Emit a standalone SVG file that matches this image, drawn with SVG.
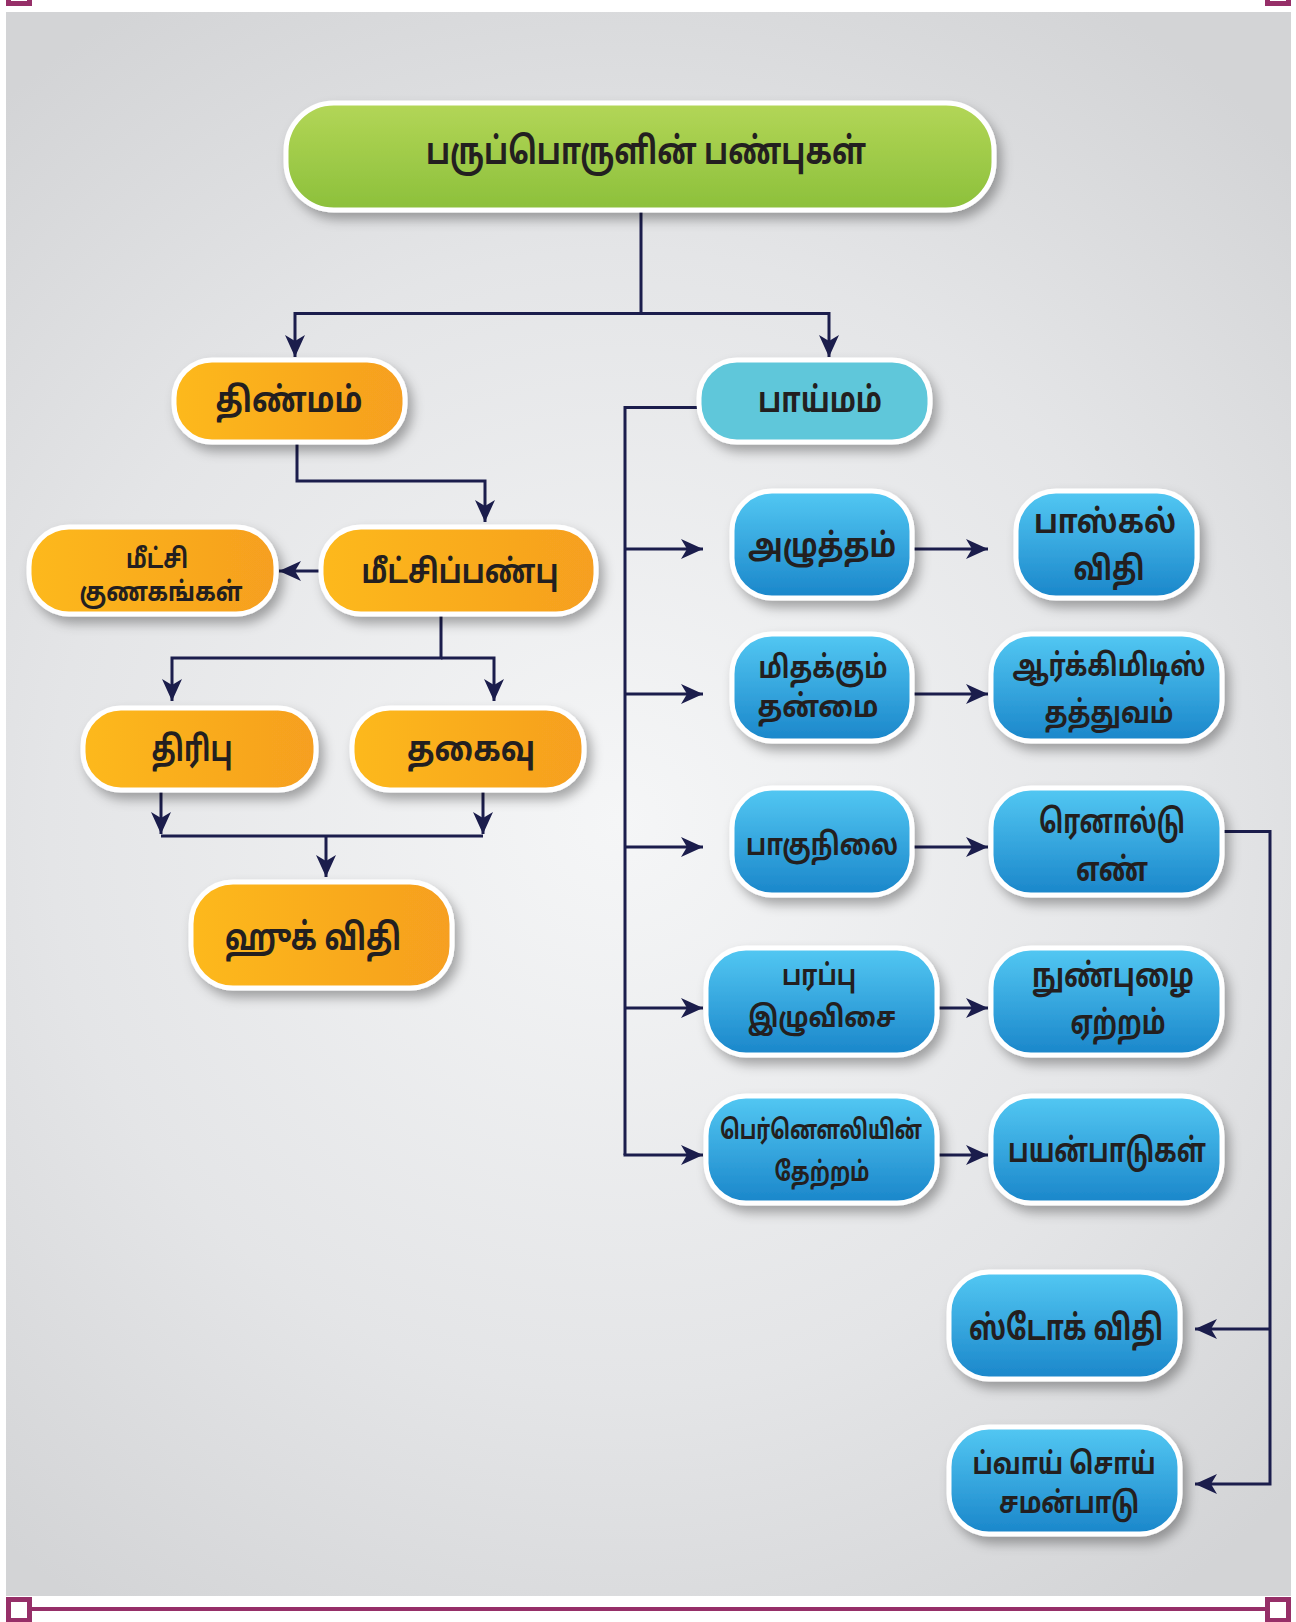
<svg xmlns="http://www.w3.org/2000/svg" width="1296" height="1622" viewBox="0 0 1296 1622">
<defs>
  <radialGradient id="bg" cx="620" cy="820" r="950" gradientUnits="userSpaceOnUse">
    <stop offset="0" stop-color="#f5f6f7"/>
    <stop offset="0.6" stop-color="#e4e5e7"/>
    <stop offset="1" stop-color="#d3d4d6"/>
  </radialGradient>
  <linearGradient id="green" x1="0" y1="0" x2="0" y2="1">
    <stop offset="0" stop-color="#b3d657"/>
    <stop offset="1" stop-color="#8cc03b"/>
  </linearGradient>
  <linearGradient id="orange" x1="0" y1="0" x2="1" y2="0">
    <stop offset="0" stop-color="#fdb91b"/>
    <stop offset="1" stop-color="#f69f20"/>
  </linearGradient>
  <linearGradient id="blue" x1="0" y1="0" x2="0" y2="1">
    <stop offset="0" stop-color="#53c8f3"/>
    <stop offset="1" stop-color="#1a86ca"/>
  </linearGradient>
  <filter id="sh" x="-20%" y="-20%" width="150%" height="160%">
    <feDropShadow dx="5" dy="7" stdDeviation="6" flood-color="#000" flood-opacity="0.32"/>
  </filter>
  <marker id="ah" markerUnits="userSpaceOnUse" markerWidth="24" markerHeight="22" refX="22" refY="10" orient="auto">
    <path d="M0,0 L22,10 L0,20 L6,10 z" fill="#1b1d4c"/>
  </marker>
  <style>
    .box{stroke:#fff;stroke-width:5;filter:url(#sh)}
    .g{fill:url(#green)}
    .o{fill:url(#orange)}
    .b{fill:url(#blue)}
    .t{fill:#5ec7da}
    text{font-family:"Noto Sans Tamil","Lohit Tamil","Noto Sans","DejaVu Sans",sans-serif;font-weight:bold;fill:#231f20;text-anchor:middle;dominant-baseline:central}
    .c{fill:none;stroke:#1b1d4c;stroke-width:3}
    .ca{fill:none;stroke:#1b1d4c;stroke-width:3;marker-end:url(#ah)}
    .pm{fill:#fff;stroke:#962f68;stroke-width:5}
  </style>
</defs>
<rect x="0" y="0" width="1296" height="1622" fill="#fff"/>
<rect x="6" y="12" width="1285" height="1584" fill="url(#bg)"/>
<line x1="30" y1="1609" x2="1267" y2="1609" stroke="#962f68" stroke-width="4"/>
<rect class="pm" x="8.5" y="1599.5" width="21" height="21"/>
<rect class="pm" x="1267.5" y="1599.5" width="21" height="21"/>
<rect class="pm" x="8.5" y="-17.5" width="21" height="21"/>
<rect class="pm" x="1267.5" y="-17.5" width="21" height="21"/>

<g id="connectors">
  <path class="c" d="M641,210 V313.5 H295"/>
  <path class="ca" d="M295,312 V357"/>
  <path class="ca" d="M641,313.5 H829 V357"/>
  <path class="ca" d="M297,442 V481 H485 V522"/>
  <path class="ca" d="M321,571 H279"/>
  <path class="ca" d="M441,614 V658 H172 V701"/>
  <path class="ca" d="M441,658 H494 V701"/>
  <path class="ca" d="M161,790 V834"/>
  <path class="ca" d="M483,790 V834"/>
  <path class="c" d="M161,836 H483"/>
  <path class="ca" d="M326,836 V877"/>
  <path class="c" d="M699,407.5 H625 V1155"/>
  <path class="ca" d="M625,549 H703"/>
  <path class="ca" d="M625,694 H703"/>
  <path class="ca" d="M625,847 H703"/>
  <path class="ca" d="M625,1008 H703"/>
  <path class="ca" d="M623.5,1155 H703"/>
  <path class="ca" d="M912,549 H988"/>
  <path class="ca" d="M912,694 H988"/>
  <path class="ca" d="M912,847 H988"/>
  <path class="ca" d="M937,1008 H988"/>
  <path class="ca" d="M937,1155 H988"/>
  <path class="ca" d="M1222,831.5 H1270 V1484 H1195"/>
  <path class="ca" d="M1270,1329 H1195"/>
</g>

<g id="root"><rect class="box g" x="286" y="103" width="708" height="107" rx="48"/>
  <text x="646" y="155" font-size="37" textLength="440" lengthAdjust="spacingAndGlyphs">பருப்பொருளின் பண்புகள்</text></g>
<g id="thinmam"><rect class="box o" x="174" y="360" width="231" height="82" rx="38"/>
  <text x="289" y="403" font-size="35" textLength="147" lengthAdjust="spacingAndGlyphs">திண்மம்</text></g>
<g id="paaymam"><rect class="box t" x="699" y="360" width="231" height="82" rx="38"/>
  <text x="820" y="403" font-size="35" textLength="124" lengthAdjust="spacingAndGlyphs">பாய்மம்</text></g>
<g id="meetchi-gunagangal"><rect class="box o" x="29" y="527" width="247" height="87" rx="40"/>
  <text x="157" y="561" font-size="27" textLength="62" lengthAdjust="spacingAndGlyphs">மீட்சி</text>
  <text x="161" y="594" font-size="27" textLength="163" lengthAdjust="spacingAndGlyphs">குணகங்கள்</text></g>
<g id="meetchippanbu"><rect class="box o" x="321" y="527" width="275" height="87" rx="40"/>
  <text x="460" y="574" font-size="33" textLength="197" lengthAdjust="spacingAndGlyphs">மீட்சிப்பண்பு</text></g>
<g id="thiribu"><rect class="box o" x="83" y="708" width="233" height="82" rx="38"/>
  <text x="192" y="752" font-size="35" textLength="81" lengthAdjust="spacingAndGlyphs">திரிபு</text></g>
<g id="thagaivu"><rect class="box o" x="352" y="708" width="232" height="82" rx="38"/>
  <text x="471" y="752" font-size="35" textLength="128" lengthAdjust="spacingAndGlyphs">தகைவு</text></g>
<g id="hooke"><rect class="box o" x="191" y="882" width="261" height="106" rx="42"/>
  <text x="313" y="941" font-size="37" textLength="176" lengthAdjust="spacingAndGlyphs">ஹுக் விதி</text></g>

<g id="azhutham"><rect class="box b" x="732" y="491" width="180" height="107" rx="40"/>
  <text x="822" y="548" font-size="33" textLength="148" lengthAdjust="spacingAndGlyphs">அழுத்தம்</text></g>
<g id="pascal"><rect class="box b" x="1016" y="491" width="181" height="107" rx="40"/>
  <text x="1105" y="524" font-size="33" textLength="142" lengthAdjust="spacingAndGlyphs">பாஸ்கல்</text>
  <text x="1109" y="571" font-size="33" textLength="71" lengthAdjust="spacingAndGlyphs">விதி</text></g>
<g id="mithakkum"><rect class="box b" x="732" y="634" width="180" height="107" rx="40"/>
  <text x="823" y="670" font-size="31" textLength="129" lengthAdjust="spacingAndGlyphs">மிதக்கும்</text>
  <text x="818" y="709" font-size="31" textLength="121" lengthAdjust="spacingAndGlyphs">தன்மை</text></g>
<g id="archimedes"><rect class="box b" x="991" y="634" width="231" height="107" rx="40"/>
  <text x="1109" y="668" font-size="31" textLength="193" lengthAdjust="spacingAndGlyphs">ஆர்க்கிமிடிஸ்</text>
  <text x="1109" y="715" font-size="31" textLength="129" lengthAdjust="spacingAndGlyphs">தத்துவம்</text></g>
<g id="paagunilai"><rect class="box b" x="732" y="788" width="180" height="107" rx="40"/>
  <text x="822" y="847" font-size="31" textLength="152" lengthAdjust="spacingAndGlyphs">பாகுநிலை</text></g>
<g id="reynolds"><rect class="box b" x="991" y="788" width="231" height="107" rx="40"/>
  <text x="1112" y="824" font-size="33" textLength="146" lengthAdjust="spacingAndGlyphs">ரெனால்டு</text>
  <text x="1112" y="872" font-size="33" textLength="72" lengthAdjust="spacingAndGlyphs">எண்</text></g>
<g id="parappu"><rect class="box b" x="706" y="948" width="231" height="107" rx="40"/>
  <text x="819" y="978" font-size="29" textLength="74" lengthAdjust="spacingAndGlyphs">பரப்பு</text>
  <text x="822" y="1020" font-size="29" textLength="148" lengthAdjust="spacingAndGlyphs">இழுவிசை</text></g>
<g id="nunpuzhai"><rect class="box b" x="991" y="948" width="231" height="107" rx="40"/>
  <text x="1113" y="978" font-size="33" textLength="162" lengthAdjust="spacingAndGlyphs">நுண்புழை</text>
  <text x="1118" y="1025" font-size="33" textLength="95" lengthAdjust="spacingAndGlyphs">ஏற்றம்</text></g>
<g id="bernoulli"><rect class="box b" x="706" y="1096" width="231" height="107" rx="40"/>
  <text x="821" y="1132" font-size="27" textLength="202" lengthAdjust="spacingAndGlyphs">பெர்னௌலியின்</text>
  <text x="822" y="1174" font-size="27" textLength="95" lengthAdjust="spacingAndGlyphs">தேற்றம்</text></g>
<g id="payanpaadugal"><rect class="box b" x="991" y="1096" width="231" height="107" rx="40"/>
  <text x="1107" y="1153" font-size="33" textLength="198" lengthAdjust="spacingAndGlyphs">பயன்பாடுகள்</text></g>
<g id="stokes"><rect class="box b" x="949" y="1272" width="231" height="107" rx="40"/>
  <text x="1066" y="1331" font-size="35" textLength="194" lengthAdjust="spacingAndGlyphs">ஸ்டோக் விதி</text></g>
<g id="poiseuille"><rect class="box b" x="949" y="1427" width="231" height="107" rx="40"/>
  <text x="1064" y="1466" font-size="30" textLength="183" lengthAdjust="spacingAndGlyphs">ப்வாய் சொய்</text>
  <text x="1069" y="1505" font-size="30" textLength="140" lengthAdjust="spacingAndGlyphs">சமன்பாடு</text></g>
</svg>
